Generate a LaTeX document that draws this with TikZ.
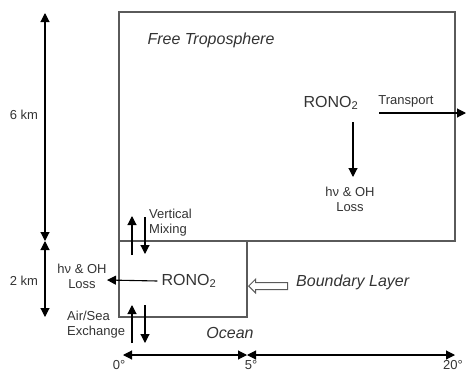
\documentclass[tikz,border=0pt]{standalone}
\usepackage{fontspec}
\setmainfont{Liberation Sans}
\usetikzlibrary{arrows.meta,shapes.arrows}
\definecolor{boxgrey}{HTML}{5A5A5A}
\definecolor{txtgrey}{HTML}{333333}

\begin{document}
\begin{tikzpicture}
[
x=1pt,y=-1pt,
layer/.style={draw=boxgrey,line width=1.2pt},
flux/.style={-{Triangle[length=9pt,width=9pt]},line width=1.1pt},
span/.style={{Triangle[length=9pt,width=9pt]}-{Triangle[length=9pt,width=9pt]},line width=1.1pt},
lbl/.style={font=\fontsize{13}{15}\selectfont,text=txtgrey,align=center,inner sep=0pt},
species/.style={font=\fontsize{16}{18}\selectfont,text=txtgrey,inner sep=0pt},
region/.style={font=\fontsize{16}{18}\selectfont\itshape,text=txtgrey,inner sep=0pt},
]
\useasboundingbox (0,0) rectangle (466,373);

%Place the boxes
\coordinate (ftnw) at (119,12);
\coordinate (ftse) at (455,241);
\coordinate (blnw) at (119,241);
\coordinate (blse) at (247,317);
\draw[layer] (ftnw) rectangle (ftse);
\draw[layer] (blnw) rectangle (blse);

%Place the nodes
\node[region] (ftname) at (211,40) {Free Troposphere};
\node[species] (ftrono) at (331,103) {RONO\textsubscript{2}};
\node[lbl] (transport) at (406,101) {Transport};
\node[lbl] (ftloss) at (350,199) {hν \& OH\\Loss};
\node[lbl] (hsix) at (24,115) {6 km};
\node[lbl] (htwo) at (24,281) {2 km};
\node[lbl,align=left,anchor=west] (mixing) at (149,223) {Vertical\\Mixing};
\node[species] (blrono) at (189,281) {RONO\textsubscript{2}};
\node[lbl] (blloss) at (82,276) {hν \& OH\\Loss};
\node[lbl,align=left,anchor=west] (airsea) at (67,325) {Air/Sea\\Exchange};
\node[region] (ocean) at (230,333) {Ocean};
\node[region,anchor=west] (blname) at (296,282) {Boundary Layer};
\node[single arrow,draw=boxgrey,line width=1pt,shape border rotate=180,
      inner sep=3pt,minimum height=39pt,single arrow head extend=3.5pt,
      anchor=tip] (inflow) at (248,286) {};
\node[lbl,anchor=base] (lonzero) at (119,369) {0°};
\node[lbl,anchor=base] (lonfive) at (251,369) {5°};
\node[lbl,anchor=base] (lontwenty) at (453,369) {20°};

%Connection points
\coordinate (ztop) at (45,13);
\coordinate (zmid) at (45,241);
\coordinate (zbot) at (45,317);
\coordinate (xa) at (123,355);
\coordinate (xb) at (247,355);
\coordinate (xc) at (455,355);
\coordinate (trend) at (466,113);
\coordinate (mixupa) at (132,255);
\coordinate (mixupb) at (132,216);
\coordinate (mixdna) at (145,217);
\coordinate (mixdnb) at (145,254);
\coordinate (seaupa) at (132,343);
\coordinate (seaupb) at (132,305);
\coordinate (seadna) at (145,305);
\coordinate (seadnb) at (145,343);

%Draw the connections
\draw[span] (zmid) to (ztop);
\draw[span] (zmid) to (zbot);
\draw[span] (xa) to (xb);
\draw[span] (xb) to (xc);
\draw[flux] (379,113) to (trend);
\draw[flux] (ftrono.south -| 353,0) ++(0,12) to (353,177);
\draw[flux] (blrono.west) ++(-4,0) to (107,280);
\draw[flux] (mixupa) to (mixupb);
\draw[flux] (mixdna) to (mixdnb);
\draw[flux] (seaupa) to (seaupb);
\draw[flux] (seadna) to (seadnb);
\end{tikzpicture}
\end{document}
